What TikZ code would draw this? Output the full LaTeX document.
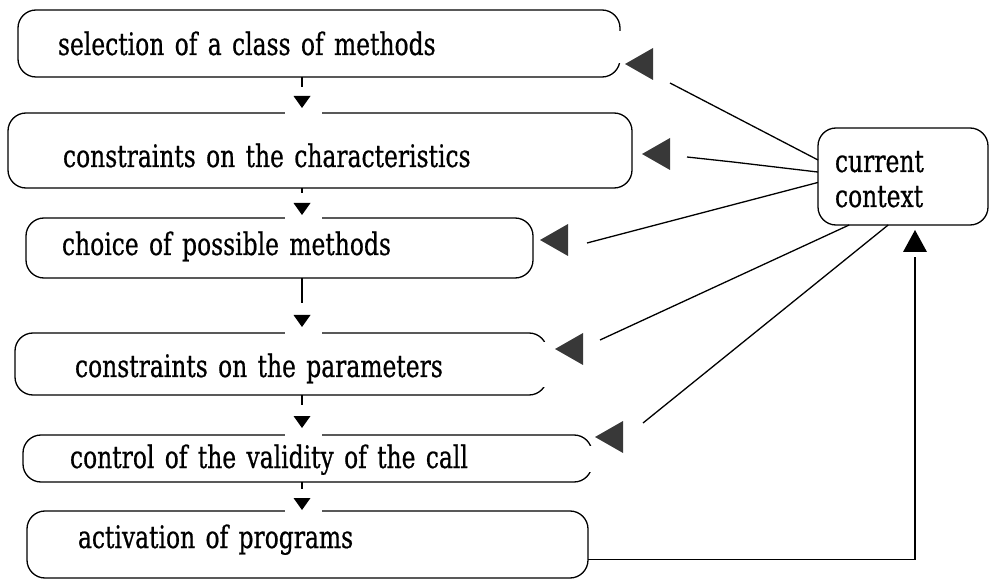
\documentclass[tikz,border=0pt]{standalone}
\usepackage{fontspec}
\setmainfont[FakeStretch=0.755,FakeBold=0.6]{DejaVu Serif}
\usetikzlibrary{calc}
\newcommand\headdown[1]{\fill[dhead] #1 -- ++(-8.5,-12) -- ++(17,0) -- cycle;}
\newcommand\headleft[1]{\fill[fbhead] #1 -- ++(28,-16) -- ++(0,32) -- cycle;}
\newcommand\topgap[1]{\fill[white] ($(#1.north -| axis)+(-17,-2.5)$) rectangle ++(37,5);}
\begin{document}
\begin{tikzpicture}[x=1pt,y=-1pt,
  box/.style={draw, line width=1.3pt, rounded corners=18pt, anchor=north west,
    align=left, inner ysep=0pt, outer sep=0pt, font=\fontsize{31}{35}\selectfont},
  conn/.style={line width=1.4pt},
  fb/.style={line width=1.3pt},
  fbhead/.style={fill=black!78},
  dhead/.style={fill=black}]
\useasboundingbox (0,0) rectangle (989,580);
% boxes
\node[box, inner xsep=40pt, text width=522pt, text height=45pt, text depth=22pt] (b1) at (18,10) {selection of a class of methods};
\node[box, inner xsep=55pt, text width=514pt, text height=54pt, text depth=21pt] (b2) at (8,113) {constraints on the characteristics};
\node[box, inner xsep=36pt, text width=435pt, text height=37pt, text depth=23pt] (b3) at (26,218) {choice of possible methods};
\node[box, inner xsep=60pt, text width=412pt, text height=44pt, text depth=18pt] (b4) at (15,333) {constraints on the parameters};
\node[box, inner xsep=47pt, text width=475pt, text height=33pt, text depth=14pt] (b5) at (23,435) {control of the validity of the call};
\node[box, inner xsep=51pt, text width=459pt, text height=37pt, text depth=30pt] (b6) at (27,511) {activation of programs};
\node[box, inner xsep=17pt, text width=136pt, minimum width=170pt, minimum height=97pt, text height=28pt, text depth=37pt] (ctx) at (818,128) {current\\context};
% axes
\coordinate (axis) at (302,0);
\coordinate (upaxis) at (915,0);
% openings of the scanned outlines
\topgap{b2}\topgap{b3}\topgap{b4}\topgap{b5}\topgap{b6}
\fill[white] (614,31) rectangle (626,63);
\fill[white] (541,342) rectangle (553,387);
\fill[white] (586,446) rectangle (598,472);
% flow connectors
\draw[conn, shorten >=26pt] (b1.south -| axis) -- (b2.north -| axis);
\headdown{($(b2.north -| axis)+(0,-5)$)}
\draw[conn, shorten >=25pt] (b2.south -| axis) -- (b3.north -| axis);
\headdown{($(b3.north -| axis)+(0,-3)$)}
\draw[conn, shorten >=30pt] (b3.south -| axis) -- (b4.north -| axis);
\headdown{($(b4.north -| axis)+(0,-6)$)}
\draw[conn, shorten >=30pt] (b4.south -| axis) -- (b5.north -| axis);
\headdown{($(b5.north -| axis)+(0,-7)$)}
\draw[conn, shorten >=22pt] (b5.south -| axis) -- (b6.north -| axis);
\headdown{($(b6.north -| axis)+(0,-1)$)}
% feedback from the current context
\coordinate (e1) at (670,83);  \coordinate (t1) at (625,64);
\coordinate (k2) at (733,162); \coordinate (e2) at (687,157); \coordinate (t2) at (642,154);
\coordinate (e3) at (587,243); \coordinate (t3) at (540,240);
\coordinate (e4) at (600,340); \coordinate (t4) at (555,349);
\coordinate (e5) at (643,423); \coordinate (t5) at (595,437);
\draw[fb] (ctx.169) -- (e1);
\draw[fb] (ctx.177) -- (k2) -- (e2);
\draw[fb] (ctx.184) -- (e3);
\draw[fb] (ctx.222.5) -- (e4);
\draw[fb] (ctx.253) -- (e5);
\headleft{(t1)}\headleft{(t2)}\headleft{(t3)}\headleft{(t4)}\headleft{(t5)}
% activation back to the context
\draw[conn, shorten >=32pt] ($(b6.east)+(0,15)$) -| (ctx.south -| upaxis);
\fill[dhead] ($(ctx.south -| upaxis)+(0,5)$) -- ++(-12,22) -- ++(24,0) -- cycle;
\end{tikzpicture}
\end{document}
